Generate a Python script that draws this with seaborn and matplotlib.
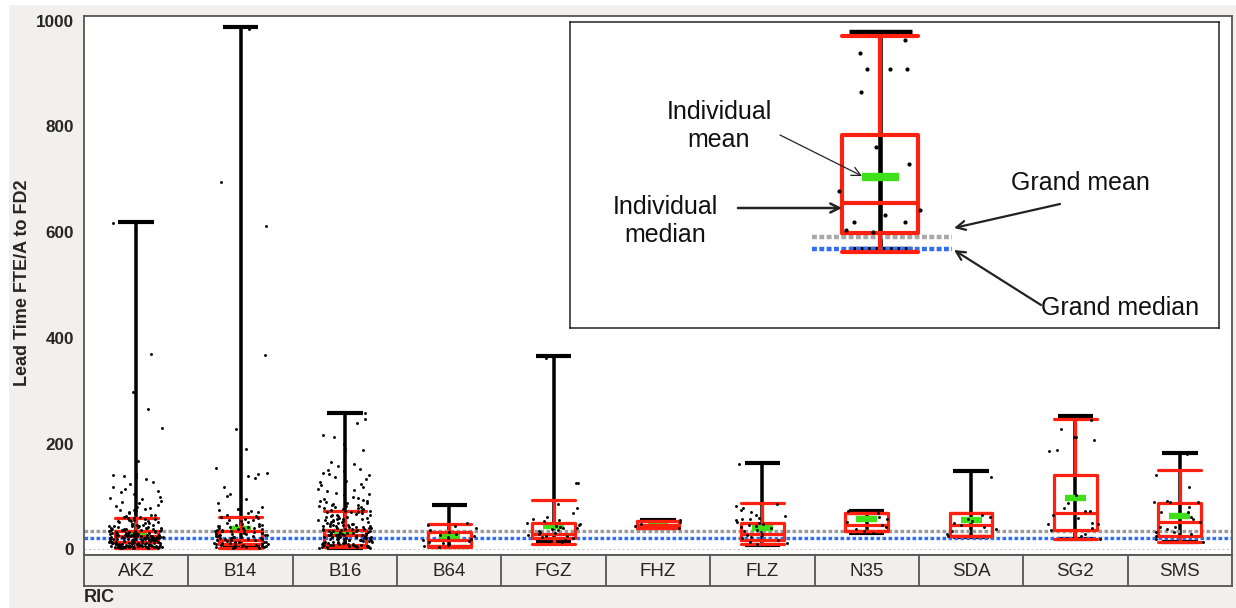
import numpy as np
import pandas as pd
import matplotlib
matplotlib.use('Agg')
import matplotlib.pyplot as plt
from matplotlib.patches import Rectangle
import seaborn as sns

# RIC groups and their box/range summaries
categories = ['AKZ', 'B14', 'B16', 'B64', 'FGZ', 'FHZ', 'FLZ', 'N35', 'SDA', 'SG2', 'SMS']
q1 = [14, 11, 8, 7, 22, 40, 17, 35, 25, 36, 26]
median = [25, 18, 27, 18, 30, 47, 29, 46, 46, 68, 51]
q3 = [34, 35, 37, 33, 50, 54, 50, 68, 68, 141, 87]
whisker_lo = [3, 3, 5, 5, 11, 40, 10, 35, 25, 19, 14]
whisker_hi = [60, 62, 73, 48, 93, 54, 87, 68, 68, 247, 151]
group_mean = [30, 39, 33, 26, 44, 47, 40, 57, 55, 98, 63]
range_min = [2, 2, 3, 4, 15, 40, 9, 31, 24, 19, 15]
range_max = [620, 988, 259, 85, 365, 56, 163, 72, 149, 253, 182]
grand_mean = 34
grand_median = 22

# individual lead times per group
akz_pts = [617, 370, 298, 265, 230, 168, 143, 141, 139, 137, 133, 128, 124, 119, 115, 111,
           108, 104, 100, 97, 95, 92, 90, 88, 85, 83, 81, 79, 77, 75, 74, 72, 71, 69, 68, 66,
           65, 64, 62, 61, 60, 59, 57, 56, 55, 54, 53, 52, 51, 50, 49, 48, 47, 46, 45, 44, 44,
           43, 42, 41, 40, 40, 39, 38, 37, 37, 36, 35, 35, 34, 33, 33, 32, 31, 31, 30, 30, 29,
           29, 28, 28, 27, 27, 26, 26, 25, 25, 25, 24, 24, 23, 23, 23, 22, 22, 21, 21, 21, 20,
           20, 19, 19, 18, 18, 17, 17, 16, 16, 15, 15, 14, 14, 13, 13, 12, 12, 11, 11, 10, 10,
           9, 9, 8, 8, 7, 7, 6, 6, 5, 5, 4, 4, 3, 3, 2, 2,
           58, 54, 50, 47, 45, 43, 41, 39, 38, 36, 34, 33, 32, 31, 30, 29, 28, 27, 26, 26, 25,
           24, 24, 23, 22, 22, 21, 20, 20, 19, 18, 18, 17, 16, 16, 15, 14, 14, 13, 12, 12, 11,
           10, 10, 9, 9, 8, 8, 7, 7, 6, 6, 5, 5, 4, 4, 3, 3, 36, 32, 28, 25, 22, 19, 16, 13,
           11, 9, 7, 5, 4, 3]
b14_pts = [985, 695, 612, 368, 228, 190, 154, 145, 142, 139, 135, 118, 105, 101, 96, 88, 80,
           77, 77, 74, 72, 70, 68, 66, 64, 62, 60, 58, 56, 54, 52, 50, 48, 47, 46, 45, 44, 43,
           42, 41, 40, 39, 38, 37, 36, 35, 34, 33, 32, 31, 30, 29, 28, 27, 26, 25, 24, 23, 22,
           21, 20, 19, 18, 17, 16, 15, 14, 13, 12, 11, 10, 9, 8, 7, 6, 5, 4, 3,
           55, 49, 44, 40, 37, 34, 31, 29, 27, 25, 23, 21, 19, 17, 15, 14, 12, 11, 10, 9, 8,
           7, 6, 5, 4, 3]
b16_pts = [258, 247, 240, 216, 212, 200, 190, 188, 166, 162, 158, 152, 150, 148, 145, 142, 140,
           137, 133, 130, 127, 124, 121, 118, 115, 112, 110, 107, 105, 103, 100, 98, 96, 94, 92,
           90, 88, 86, 85, 83, 82, 80, 79, 78, 76, 75, 74, 72, 71, 70, 68, 67, 66, 65, 63, 62,
           61, 60, 58, 57, 56, 55, 54, 53, 52, 51, 50, 49, 48, 47, 46, 45, 44, 43, 42, 41, 40,
           39, 38, 37, 36, 35, 34, 33, 32, 31, 30, 29, 28, 27, 26, 25, 24, 23, 22, 21, 20, 19,
           18, 17, 16, 15, 14, 13, 12, 11, 10, 9, 8, 7, 6, 5, 4, 3,
           92, 88, 84, 80, 76, 73, 70, 66, 63, 60, 57, 55, 52, 50, 48, 46, 44, 42, 40, 38, 36,
           35, 33, 32, 30, 29, 28, 27, 26, 25, 24, 23, 22, 21, 20, 19, 18, 17, 16, 15, 14, 13,
           12, 11, 10, 9, 8, 7, 6, 5, 4, 3, 45, 39, 34, 30, 27, 24, 21, 18, 15, 12, 9, 6, 4]
b64_pts = [84, 50, 47, 44, 40, 36, 33, 30, 28, 26, 24, 22, 20, 18, 16, 14, 12, 10, 8, 6, 4]
fgz_pts = [362, 126, 125, 86, 78, 68, 62, 58, 55, 53, 50, 48, 46, 45, 43, 41, 40, 38, 36, 35,
           33, 31, 30, 28, 26, 25, 23, 21, 18, 15]
fhz_pts = [40, 44, 48, 52, 55]
flz_pts = [161, 86, 82, 78, 74, 70, 66, 63, 60, 58, 57, 55, 52, 50, 48, 46, 44, 42, 40, 37,
           34, 30, 27, 24, 21, 18, 15, 12, 10]
n35_pts = [72, 68, 62, 57, 52, 46, 42, 38, 35, 31]
sda_pts = [148, 137, 66, 62, 58, 54, 50, 46, 42, 38, 34, 30, 26]
sg2_pts = [252, 244, 228, 213, 213, 207, 189, 187, 103, 88, 78, 73, 73, 65, 60, 50, 48, 48,
           41, 36, 30, 25, 20]
sms_pts = [181, 141, 118, 92, 90, 90, 90, 80, 70, 70, 62, 57, 52, 43, 43, 38, 33, 33, 30, 25,
           20, 15]
all_pts = [akz_pts, b14_pts, b16_pts, b64_pts, fgz_pts, fhz_pts, flz_pts, n35_pts, sda_pts,
           sg2_pts, sms_pts]

# legend example in the inset (arbitrary units, 0-100)
demo_q1, demo_median, demo_q3 = 31, 40.8, 63
demo_lo, demo_hi = 25, 95.5
demo_mean = 49.3
demo_min, demo_max = 25.8, 96.6
demo_grand_mean, demo_grand_median = 29.7, 25.9
demo_pts = [94.1, 89.8, 84.6, 84.6, 84.6, 77, 59.2, 53.6, 44.7, 38.6, 36.9, 34.6, 34.7, 32, 31.4]

df = pd.DataFrame([(c, v) for c, pts in zip(categories, all_pts) for v in pts],
                  columns=['RIC', 'lead'])

RED = '#ff2010'
GREEN = '#3ee01a'
GRAY_DOT = '#9a9a9a'
BLUE_DOT = '#2f6ff0'
PANEL = '#f1f0ec'
W, H = 1236, 608

sns.set_style('white')
plt.rcParams['font.family'] = ['Liberation Sans', 'DejaVu Sans']

fig = plt.figure(figsize=(W / 100, H / 100), dpi=100, facecolor=PANEL)
fig.patches.append(Rectangle((0, 0), 8 / W, 1, transform=fig.transFigure, color='white', zorder=0))
fig.patches.append(Rectangle((0, 1 - 4 / H), 1, 4 / H, transform=fig.transFigure, color='white', zorder=0))


def fpx(x, y):
    return (x / W, 1 - y / H)


def draw_group(axis, pos, lo, med, hi, wlo, whi, mn, vmin, vmax, lw):
    left = [p - 0.17 for p in pos]
    right = [p + 0.17 for p in pos]
    axis.vlines(pos, vmin, vmax, color='black', lw=lw * 1.1, zorder=2)
    axis.hlines(vmin, left, right, color='black', lw=lw * 1.3, zorder=2)
    axis.hlines(vmax, left, right, color='black', lw=lw * 1.3, zorder=2)
    stats = [dict(q1=a, med=m, q3=b, whislo=c, whishi=d) for a, m, b, c, d in
             zip(lo, med, hi, wlo, whi)]
    red = dict(color=RED, linewidth=lw)
    axis.bxp(stats, positions=pos, widths=0.41, capwidths=0.41, showfliers=False,
             manage_ticks=False, boxprops=red, whiskerprops=red, capprops=red,
             medianprops=red, zorder=3)
    axis.hlines(mn, [p - 0.1 for p in pos], [p + 0.1 for p in pos], color=GREEN,
                lw=lw * 2.0, zorder=2.8)


# main plot
ax = fig.add_axes([84 / W, 1 - 555 / H, 1148 / W, 539 / H])
ax.set_facecolor('white')
np.random.seed(7)
sns.stripplot(data=df, x='RIC', y='lead', order=categories, color='black', size=2.1,
              jitter=0.26, linewidth=0, ax=ax, zorder=4)
pos = list(range(len(categories)))
draw_group(ax, pos, q1, median, q3, whisker_lo, whisker_hi, group_mean, range_min, range_max, 2.3)
ax.axhline(0, color='#c8c8c8', lw=0.8, ls=(0, (2, 2)), zorder=1)
ax.axhline(grand_mean, color=GRAY_DOT, lw=2.4, ls=(0, (1.1, 0.7)), zorder=2.5)
ax.axhline(grand_median, color=BLUE_DOT, lw=2.4, ls=(0, (1.1, 0.7)), zorder=2.5)
ax.set_xlim(-0.5, len(categories) - 0.5)
ax.set_ylim(-10.5, 1009)
ax.set_xticks([])
ax.set_xlabel('')
ax.set_yticks([0, 200, 400, 600, 800, 1000])
ax.tick_params(axis='y', length=5, width=1, color='#555555', pad=2, labelsize=12.3)
for t in ax.get_yticklabels():
    t.set_fontweight('bold')
ax.set_ylabel('Lead Time FTE/A to FD2', fontsize=13, fontweight='bold')
ax.yaxis.set_label_coords((31 - 84) / 1148, (555 - 283) / 539)
for s in ax.spines.values():
    s.set_color('#555555')
    s.set_linewidth(1.3)

# category label strip
cax = fig.add_axes([84 / W, 1 - 586 / H, 1148 / W, 31 / H])
cax.set_facecolor('#f0efec')
cax.set_xlim(-0.5, len(categories) - 0.5)
cax.set_ylim(0, 1)
cax.set_xticks([])
cax.set_yticks([])
for k, c in enumerate(categories):
    if k > 0:
        cax.axvline(k - 0.5, color='#555555', lw=1.3)
    cax.text(k, 0.47, c, ha='center', va='center', fontsize=13.5)
for s in cax.spines.values():
    s.set_color('#555555')
    s.set_linewidth(1.3)
fig.text(84 / W, 1 - 597 / H, 'RIC', fontsize=13, fontweight='bold', ha='left', va='center')

# inset explaining the marks
ain = fig.add_axes([570 / W, 1 - 328 / H, 649 / W, 306 / H])
ain.set_facecolor('white')
sns.stripplot(y=demo_pts, color='black', size=3.0, jitter=0.22, linewidth=0, ax=ain, zorder=4)
draw_group(ain, [0], [demo_q1], [demo_median], [demo_q3], [demo_lo], [demo_hi], [demo_mean],
           [demo_min], [demo_max], 3.0)
ain.hlines(demo_grand_mean, -0.37, 0.39, color='#a8a8a8', lw=3.2, ls=(0, (1.1, 0.55)), zorder=2.5)
ain.hlines(demo_grand_median, -0.37, 0.39, color=BLUE_DOT, lw=3.2, ls=(0, (1.1, 0.55)), zorder=2.5)
ain.set_xlim(-1.676, 1.832)
ain.set_ylim(0, 100)
ain.set_xticks([])
ain.set_yticks([])
ain.set_xlabel('')
ain.set_ylabel('')
for s in ain.spines.values():
    s.set_color('#222222')
    s.set_linewidth(1.1)

notes = [('Individual\nmean', (719, 126), (780, 135), (862, 176), 0.9),
         ('Individual\nmedian', (665, 221), (738, 208), (842, 208), 1.8),
         ('Grand mean', (1080, 183), (1060, 204), (954, 228), 1.6),
         ('Grand median', (1120, 308), (1041, 305), (954, 250), 1.6)]
for label, tpos, start, end, alw in notes:
    fig.text(*fpx(*tpos), label, ha='center', va='center', fontsize=18, linespacing=1.25,
             color='#111111')
    ain.annotate('', xy=fpx(*end), xycoords='figure fraction', xytext=fpx(*start),
                 textcoords='figure fraction',
                 arrowprops=dict(arrowstyle='->', lw=alw, color='#222222', shrinkA=0,
                                 shrinkB=0, mutation_scale=16))

fig.savefig('out.png', dpi=100, facecolor=fig.get_facecolor())
